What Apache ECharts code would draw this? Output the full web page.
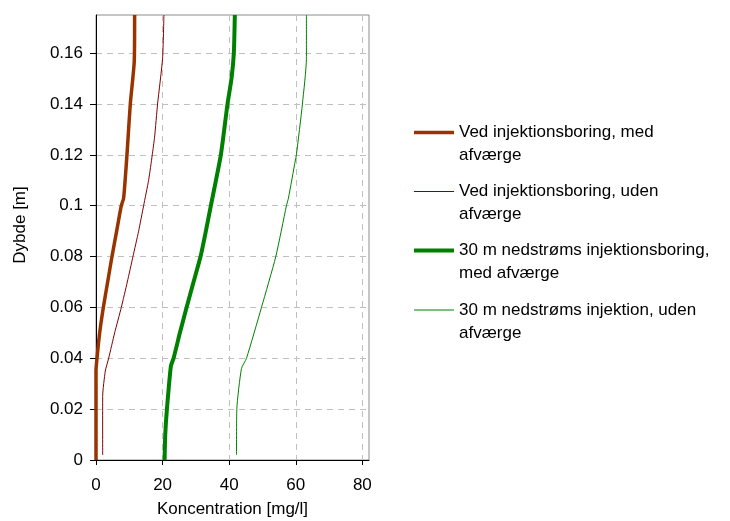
<!DOCTYPE html>
<html>
<head>
<meta charset="utf-8">
<script src="https://cdn.jsdelivr.net/npm/echarts@6/dist/echarts.min.js"></script>
<style>
html,body{margin:0;padding:0;background:#fff;}
#chart{width:730px;height:521px;}
</style>
</head>
<body>
<div id="chart"></div>
<script>
// Series names (legend)
const seriesNames = [
  'Ved injektionsboring, med\nafværge',
  'Ved injektionsboring, uden\nafværge',
  '30 m nedstrøms injektionsboring,\nmed afværge',
  '30 m nedstrøms injektion, uden\nafværge'
];
// [koncentration mg/l, dybde m]
const vedMed = [[0,0],[0,0.02],[0,0.035],[0.3,0.04],[1.1,0.05],[2.2,0.06],[3.5,0.07],[4.8,0.08],[6.2,0.09],[7.6,0.1],[8.3,0.103],[9.3,0.12],[10.3,0.14],[11.5,0.157],[11.6,0.175]];
const vedUden = [[2.0,0.002],[2.0,0.025],[2.8,0.035],[3.8,0.04],[5.6,0.05],[7.6,0.06],[9.4,0.07],[11.1,0.08],[12.8,0.09],[14.3,0.1],[15.8,0.11],[16.9,0.12],[17.6,0.127],[18.5,0.14],[20.0,0.158],[20.4,0.175]];
const nedMed = [[20.6,0],[20.8,0.01],[21.3,0.02],[22.5,0.037],[23.3,0.04],[25.2,0.05],[27.2,0.06],[29.3,0.07],[31.4,0.08],[33.0,0.09],[34.5,0.1],[37.5,0.12],[39.5,0.14],[40.7,0.15],[41.4,0.16],[41.7,0.175]];
const nedUden = [[42.2,0.002],[42.3,0.02],[43.7,0.036],[45.2,0.04],[49.7,0.06],[54.0,0.08],[57.2,0.1],[57.8,0.103],[59.9,0.118],[60.2,0.12],[62.0,0.14],[63.2,0.158],[63.2,0.175]];
// Axis ticks
const xTickValues = [0,20,40,60,80];
const yTickValues = [0,0.02,0.04,0.06,0.08,0.1,0.12,0.14,0.16];
const xMax = 82;
const yMax = 0.175;

const FONT = 'Liberation Sans, Arial, sans-serif';
const chart = echarts.init(document.getElementById('chart'));
const seriesData = [vedMed, vedUden, nedMed, nedUden];
const colors = ['#993300', '#800000', '#008000', '#008000'];
const widths = [3.5, 1, 4, 1];
const legendIconY = [132.5, 191.5, 250.5, 310];

chart.setOption({
  animation: false,
  backgroundColor: '#fff',
  grid: {
    left: 96, right: 361, top: 15, bottom: 61,
    show: true, borderColor: '#8c8c8c', borderWidth: 1,
    containLabel: false, outerBoundsMode: 'none'
  },
  legend: seriesNames.map((n, i) => ({
    orient: 'vertical',
    left: 414, top: legendIconY[i] - 34.5,
    padding: 0,
    itemWidth: 40, itemHeight: widths[i],
    icon: 'rect',
    formatter: name => '\n' + name,
    textStyle: {
      fontFamily: FONT, fontSize: 17, color: '#000',
      lineHeight: 23
    },
    data: [n]
  })),
  xAxis: {
    type: 'value', min: 0, max: xMax, interval: 20,
    name: 'Koncentration [mg/l]', nameLocation: 'middle', nameGap: 41,
    nameTextStyle: { fontFamily: FONT, fontSize: 17, color: '#000' },
    axisLine: { show: true, onZero: false, lineStyle: { color: '#000', width: 1 } },
    axisTick: { show: true, length: 5, customValues: xTickValues, lineStyle: { color: '#000' } },
    axisLabel: { customValues: xTickValues, fontFamily: FONT, fontSize: 17, color: '#000', margin: 17 },
    splitLine: { show: true, lineStyle: { color: '#c0c0c0', type: [6, 5], width: 1 } }
  },
  yAxis: {
    type: 'value', min: 0, max: yMax, interval: 0.02,
    name: 'Dybde [m]', nameLocation: 'middle', nameGap: 67,
    nameTextStyle: { fontFamily: FONT, fontSize: 17, color: '#000', padding: [0, 0, 0, 25] },
    axisLine: { show: true, onZero: false, lineStyle: { color: '#000', width: 1 } },
    axisTick: { show: true, length: 6, customValues: yTickValues, lineStyle: { color: '#000' } },
    axisLabel: { customValues: yTickValues, fontFamily: FONT, fontSize: 17, color: '#000', margin: 13 },
    splitLine: { show: true, lineStyle: { color: '#c0c0c0', type: [6, 5], width: 1 } }
  },
  series: seriesData.map((d, i) => ({
    name: seriesNames[i],
    type: 'line',
    data: d,
    showSymbol: false,
    symbol: 'none',
    smooth: 0.2,
    lineStyle: { color: colors[i], width: widths[i] },
    itemStyle: { color: colors[i] },
    z: 3
  }))
});
</script>
</body>
</html>
